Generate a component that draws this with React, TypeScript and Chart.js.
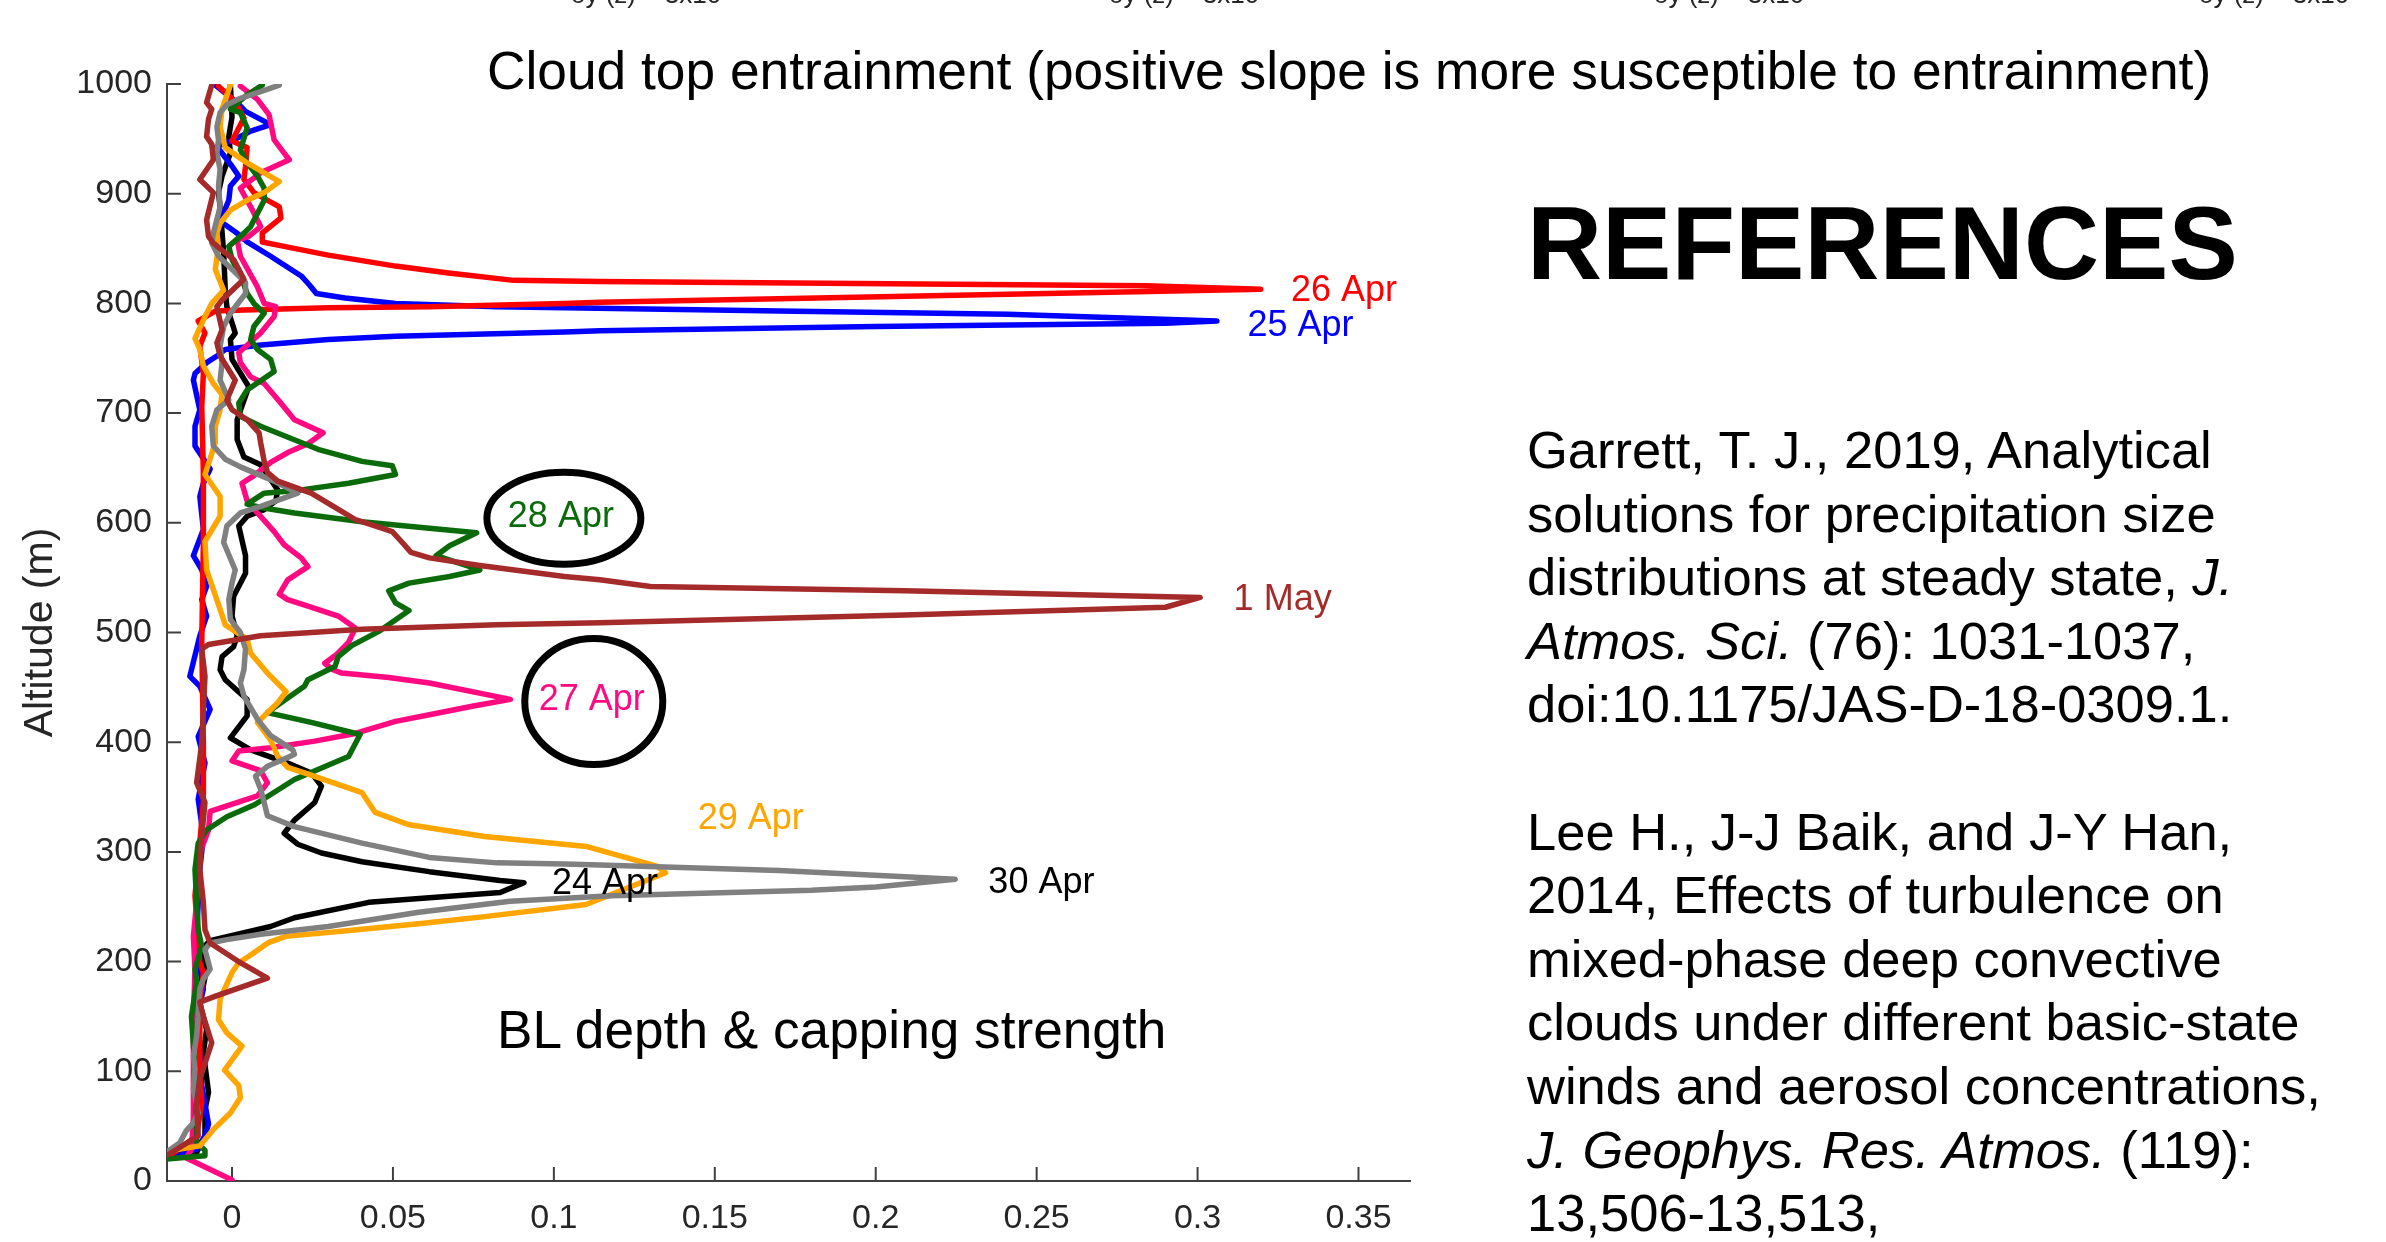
import React, { useEffect, useRef } from 'react';
import { Chart, registerables } from 'chart.js';

Chart.register(...registerables);

const FONT = '"Liberation Sans", Arial, Helvetica, sans-serif';
const AXIS_COLOR = '#404040';
const TICK_COLOR = '#262626';

// Vertical profiles, one per flight day: [altitude (m), value]
const apr24: [number, number][] = [
  [21, -0.0194], [26, -0.011], [41, -0.0084], [65, -0.0084], [81, -0.0073], [117, -0.0089], [138, -0.0079],
  [162, -0.01], [193, -0.0079], [208, -0.0094], [213, -0.0089], [219, -0.0068], [232, 0.012], [240, 0.0194],
  [254, 0.0425], [263, 0.0833], [272, 0.0907], [274, 0.0833], [282, 0.0613], [291, 0.0404], [299, 0.0278],
  [307, 0.0204], [317, 0.0162], [329, 0.0194], [345, 0.0257], [360, 0.0278], [372, 0.0246], [381, 0.0173],
  [393, 0.0058], [404, -0.0005], [424, 0.0047], [439, 0.0047], [457, -0.0021], [466, -0.0037], [478, -0.0031],
  [487, 0.0005], [497, 0.0016], [515, 0], [533, 0.0005], [554, 0.0042], [570, 0.0042], [597, 0.0021],
  [606, 0.0047], [612, 0.01], [620, 0.0136], [630, 0.0142], [653, 0.0089], [660, 0.0037], [676, 0.0016],
  [694, 0.0016], [724, 0.0052], [749, 0], [767, -0.0005], [773, 0.001], [797, -0.0016], [812, -0.0021],
  [846, -0.0026], [888, -0.0037], [901, -0.0042], [916, -0.0031], [937, -0.0005], [952, -0.001], [970, 0],
  [999, -0.0005],
];

const apr25: [number, number][] = [
  [21, -0.0204], [29, -0.011], [41, -0.0084], [52, -0.0073], [87, -0.0094], [117, -0.01], [147, -0.011],
  [175, -0.0089], [193, -0.01], [223, -0.011], [254, -0.0105], [284, -0.01], [314, -0.0089], [348, -0.0105],
  [381, -0.0084], [405, -0.0105], [430, -0.0068], [451, -0.01], [460, -0.0131], [497, -0.01], [515, -0.0079],
  [530, -0.0094], [542, -0.0079], [557, -0.0094], [570, -0.012], [594, -0.0089], [624, -0.01], [636, -0.0089],
  [649, -0.0068], [670, -0.0115], [688, -0.0115], [703, -0.01], [730, -0.012], [736, -0.0115], [746, -0.0079],
  [753, -0.0042], [758, -0.0021], [762, 0.0089], [767, 0.0299], [770, 0.0508], [774, 0.1033], [775, 0.1143],
  [779, 0.2], [782, 0.29], [784, 0.306], [790, 0.241], [793, 0.17], [796, 0.1033], [797, 0.0823],
  [800, 0.0508], [805, 0.0351], [809, 0.0262], [817, 0.024], [825, 0.0215], [835, 0.0162], [843, 0.012],
  [856, 0.0047], [864, 0.0016], [875, -0.0037], [894, -0.001], [907, -0.0005], [916, 0.0021], [925, 0],
  [943, -0.0047], [949, 0.0005], [957, 0.0058], [963, 0.012], [975, 0.0042], [983, 0.0016], [999, -0.0052],
];

const apr26: [number, number][] = [
  [23, -0.0194], [41, -0.011], [72, -0.0094], [102, -0.01], [162, -0.01], [190, -0.0089], [199, -0.01],
  [260, -0.0115], [345, -0.0089], [399, -0.0089], [491, -0.0094], [582, -0.0089], [645, -0.0089],
  [706, -0.0094], [736, -0.0089], [761, -0.01], [773, -0.0084], [784, -0.0105], [793, -0.0052], [794, 0.0037],
  [796, 0.0299], [797, 0.0613], [800, 0.1033], [801, 0.1143], [811, 0.2886], [813, 0.3196], [816, 0.284],
  [820, 0.1143], [821, 0.0875], [828, 0.0666], [834, 0.0508], [844, 0.0299], [852, 0.0162], [856, 0.0094],
  [864, 0.0094], [878, 0.0152], [888, 0.0147], [901, 0.0068], [913, 0.0037], [925, 0.0042], [942, 0.0047],
  [948, 0], [969, 0.0037], [984, 0.001], [998, -0.0042],
];

const apr27: [number, number][] = [
  [1, 0], [21, -0.0142], [29, -0.0126], [57, -0.012], [102, -0.012], [147, -0.012], [193, -0.0115],
  [223, -0.012], [254, -0.011], [299, -0.01], [320, -0.0073], [337, -0.0068], [351, 0.0079], [363, 0.011],
  [374, 0.0089], [383, 0], [392, 0.0021], [395, 0.012], [401, 0.0257], [408, 0.0383], [419, 0.0508],
  [425, 0.0613], [433, 0.075], [439, 0.0865], [454, 0.0613], [459, 0.0487], [463, 0.0341], [466, 0.0314],
  [472, 0.0288], [480, 0.0325], [491, 0.0362], [504, 0.0383], [515, 0.033], [524, 0.0236], [530, 0.0173],
  [535, 0.0147], [548, 0.0173], [560, 0.0236], [568, 0.0215], [580, 0.0162], [592, 0.0131], [609, 0.0079],
  [620, 0.0047], [636, 0.0031], [643, 0.0068], [655, 0.012], [664, 0.0173], [672, 0.0236], [682, 0.0283],
  [694, 0.0194], [709, 0.0152], [727, 0.01], [733, 0.0058], [746, 0.0026], [755, 0.0021], [773, 0.0089],
  [788, 0.0131], [797, 0.0136], [800, 0.01], [815, 0.0079], [843, 0.0026], [858, 0.0016], [861, 0.0052],
  [870, 0.0089], [888, 0.0058], [905, 0.0026], [919, 0.0089], [931, 0.0178], [937, 0.0162], [949, 0.0131],
  [972, 0.0115], [986, 0.0079], [998, 0.0026],
];

const apr28: [number, number][] = [
  [20, -0.0204], [23, -0.0084], [28, -0.0084], [35, -0.011], [56, -0.011], [102, -0.0115], [150, -0.0126],
  [181, -0.011], [193, -0.0115], [214, -0.0094], [229, -0.0105], [254, -0.011], [284, -0.0115], [308, -0.0105],
  [320, -0.0079], [332, -0.0016], [343, 0.007], [366, 0.0194], [387, 0.0362], [407, 0.0398], [418, 0.0246],
  [427, 0.011], [436, 0.0152], [451, 0.0225], [457, 0.0236], [469, 0.032], [478, 0.033], [488, 0.0372],
  [501, 0.0456], [520, 0.055], [527, 0.0508], [538, 0.0487], [545, 0.055], [551, 0.0676], [557, 0.077],
  [570, 0.0634], [579, 0.0676], [591, 0.076], [595, 0.0613], [601, 0.0404], [609, 0.0194], [614, 0.0089],
  [617, 0.0047], [627, 0.01], [630, 0.0215], [636, 0.0362], [644, 0.0508], [652, 0.0498], [656, 0.0404],
  [667, 0.0267], [688, 0.0089], [697, 0.0026], [709, 0.0021], [721, 0.0047], [738, 0.0131], [749, 0.012],
  [758, 0.0079], [767, 0.0058], [779, 0.0068], [791, 0.01], [800, 0.0068], [809, 0.0047], [822, 0.0031],
  [840, 0], [852, -0.001], [864, 0.0037], [870, 0.0058], [894, 0.01], [905, 0.01], [916, 0.0079], [928, 0.0047],
  [940, 0.0026], [960, 0.0047], [974, 0.0026], [977, -0.0005], [989, 0.0042], [999, 0.0094],
];

const apr29: [number, number][] = [
  [27, -0.0204], [32, -0.01], [47, -0.0058], [62, -0.0005], [76, 0.0026], [87, 0.0021], [101, -0.0023],
  [123, 0.0031], [135, -0.0016], [147, -0.0042], [166, -0.0037], [190, 0], [199, 0.0021], [206, 0.0058],
  [217, 0.0111], [223, 0.0167], [229, 0.0389], [235, 0.0595], [241, 0.0785], [252, 0.11], [281, 0.1347],
  [287, 0.132], [305, 0.11], [314, 0.0785], [325, 0.0547], [336, 0.0445], [354, 0.0404], [372, 0.0225],
  [377, 0.0173], [387, 0.0142], [402, 0.012], [418, 0.0079], [436, 0.0142], [446, 0.0168], [463, 0.011],
  [481, 0.0058], [494, 0.0047], [507, -0.0021], [521, -0.0037], [557, -0.0079], [583, -0.0084], [606, -0.0037],
  [624, -0.0037], [644, -0.0084], [673, -0.0052], [688, -0.0052], [703, -0.0037], [717, -0.0031], [727, -0.0058],
  [743, -0.0089], [758, -0.01], [768, -0.0115], [788, -0.0084], [800, -0.0063], [812, -0.0026], [831, -0.0052],
  [852, -0.0042], [864, -0.0047], [873, -0.0037], [885, -0.0005], [894, 0.0047], [901, 0.01], [911, 0.0147],
  [928, 0.0047], [942, -0.0021], [961, -0.0037], [977, -0.0031], [999, -0.0005],
];

const apr30: [number, number][] = [
  [26, -0.0204], [35, -0.0162], [46, -0.0142], [53, -0.012], [62, -0.0105], [84, -0.012], [102, -0.0115],
  [114, -0.012], [132, -0.011], [150, -0.0105], [175, -0.01], [184, -0.0089], [193, -0.0068], [211, -0.0084],
  [217, -0.0068], [220, -0.0016], [225, 0.0089], [232, 0.0299], [245, 0.058], [255, 0.0864], [260, 0.118],
  [265, 0.18], [268, 0.2], [275, 0.2247], [283, 0.17], [288, 0.1143], [289, 0.1033], [290, 0.0823],
  [295, 0.0613], [308, 0.0404], [323, 0.0194], [333, 0.011], [345, 0.01], [357, 0.0089], [369, 0.0073],
  [378, 0.011], [386, 0.0173], [389, 0.0194], [393, 0.0189], [406, 0.012], [421, 0.0079], [442, 0.0037],
  [454, 0.0026], [466, 0.0037], [485, 0.0042], [500, 0.0026], [512, -0.0005], [530, -0.001], [545, 0],
  [557, 0.001], [582, -0.0026], [597, -0.0016], [609, 0.0026], [615, 0.0089], [627, 0.0204], [638, 0.0131],
  [651, 0.0026], [658, -0.0021], [670, -0.0058], [688, -0.0063], [703, -0.0047], [712, -0.001], [730, -0.0037],
  [746, -0.0031], [761, -0.0037], [779, -0.0026], [791, -0.0005], [809, 0.0042], [819, 0.0042], [831, 0],
  [843, -0.0042], [855, -0.0063], [864, -0.0058], [888, -0.0037], [907, -0.0042], [922, -0.0037], [937, -0.0047],
  [949, -0.0042], [961, -0.0047], [974, -0.0037], [981, -0.0016], [987, 0.0026], [993, 0.0089], [999, 0.0147],
];

const may01: [number, number][] = [
  [23, -0.0204], [41, -0.0105], [72, -0.011], [93, -0.01], [126, -0.0063], [150, -0.0089], [163, -0.01],
  [169, -0.0047], [185, 0.011], [199, 0.0026], [217, -0.0068], [229, -0.0084], [254, -0.0089], [284, -0.01],
  [314, -0.0094], [345, -0.0084], [363, -0.011], [399, -0.0094], [460, -0.0084], [485, -0.0094], [489, -0.0073],
  [497, 0.0089], [503, 0.0404], [507, 0.0823], [509, 0.1143], [516, 0.209], [523, 0.29], [532, 0.3008],
  [538, 0.209], [542, 0.13], [548, 0.1143], [551, 0.1033], [561, 0.077], [568, 0.0613], [573, 0.0556],
  [582, 0.0529], [592, 0.0498], [603, 0.0383], [614, 0.032], [627, 0.0246], [638, 0.0142], [646, 0.011],
  [656, 0.01], [673, 0.0089], [682, 0.0084], [694, 0.0047], [703, 0], [712, -0.0016], [730, 0.001],
  [752, -0.0037], [764, -0.0047], [776, -0.0031], [797, -0.0047], [803, -0.0031], [822, 0.0037], [840, 0.0005],
  [855, -0.0058], [861, -0.0073], [876, -0.0079], [901, -0.0058], [913, -0.01], [931, -0.0058], [945, -0.0063],
  [952, -0.0079], [968, -0.0073], [977, -0.0063], [983, -0.0079], [999, -0.0063],
];

const profiles = [apr24, apr25, apr26, apr27, apr28, apr29, apr30, may01];
const seriesNames = ['24 Apr', '25 Apr', '26 Apr', '27 Apr', '28 Apr', '29 Apr', '30 Apr', '1 May'];
const seriesColors = ['#000000', '#0000ff', '#ff0000', '#ff0a80', '#0b6b0b', '#ffa500', '#808080', '#a52a2a'];
const labelColors = ['#000000', '#0000ff', '#ff0000', '#ff0a80', '#0b6b0b', '#ffa500', '#000000', '#a52a2a'];
// Where each day's name sits (left edge of the text), in data units
const labelValues = [0.0994, 0.3155, 0.329, 0.0953, 0.0857, 0.1447, 0.235, 0.3112];
const labelAltitudes = [271, 779, 811, 438, 605, 330, 272, 530];
const circledDays = ['27 Apr', '28 Apr'];

const yTickValues = [0, 100, 200, 300, 400, 500, 600, 700, 800, 900, 1000];
const xTickValues = [0, 0.05, 0.1, 0.15, 0.2, 0.25, 0.3, 0.35];
const xTickLabels = ['0', '0.05', '0.1', '0.15', '0.2', '0.25', '0.3', '0.35'];
const X_MIN = -0.0202;
const X_MAX = 0.366;

// Ring radii (px) and horizontal nudge around the circled day names
const ringSize: Record<string, [number, number, number]> = {
  '28 Apr': [77, 46, 3],
  '27 Apr': [69, 63, 2],
};

const overlayPlugin = {
  id: 'profileOverlay',
  beforeDatasetsDraw(chart: any) {
    const { ctx, chartArea, scales } = chart;
    ctx.save();
    ctx.strokeStyle = AXIS_COLOR;
    ctx.lineWidth = 2;
    ctx.beginPath();
    yTickValues.forEach((v) => {
      const y = scales.y.getPixelForValue(v);
      ctx.moveTo(chartArea.left, y);
      ctx.lineTo(chartArea.left + 14, y);
    });
    xTickValues.forEach((v) => {
      const x = scales.x.getPixelForValue(v);
      ctx.moveTo(x, chartArea.bottom);
      ctx.lineTo(x, chartArea.bottom - 14);
    });
    ctx.stroke();
    ctx.restore();
  },
  afterDatasetsDraw(chart: any) {
    const { ctx, scales } = chart;
    ctx.save();
    ctx.font = `36px ${FONT}`;
    ctx.textAlign = 'left';
    ctx.textBaseline = 'middle';
    seriesNames.forEach((name, i) => {
      const x = scales.x.getPixelForValue(labelValues[i]);
      const y = scales.y.getPixelForValue(labelAltitudes[i]);
      ctx.fillStyle = labelColors[i];
      ctx.fillText(name, x, y);
      if (circledDays.includes(name)) {
        const w = ctx.measureText(name).width;
        const [rx, ry, dx] = ringSize[name];
        ctx.beginPath();
        ctx.strokeStyle = '#000000';
        ctx.lineWidth = 7;
        ctx.ellipse(x + w / 2 + dx, y + 1, rx, ry, 0, 0, Math.PI * 2);
        ctx.stroke();
      }
    });
    ctx.restore();
  },
};

function ProfileChart() {
  const canvasRef = useRef<HTMLCanvasElement | null>(null);

  useEffect(() => {
    const canvas = canvasRef.current;
    if (!canvas) return;
    Chart.defaults.font.family = FONT;
    const chart = new Chart(canvas, {
      type: 'scatter',
      data: {
        datasets: profiles.map((p, i) => ({
          label: seriesNames[i],
          data: p.map(([alt, v]) => ({ x: v, y: alt })),
          borderColor: seriesColors[i],
          backgroundColor: seriesColors[i],
          borderWidth: 5.5,
          pointRadius: 0,
          pointHoverRadius: 0,
          showLine: true,
          tension: 0,
          borderJoinStyle: 'round' as const,
          borderCapStyle: 'round' as const,
          order: profiles.length - i,
        })),
      },
      options: {
        responsive: false,
        animation: false,
        devicePixelRatio: 1,
        events: [],
        layout: { padding: { left: 0, top: 84, right: 976, bottom: 0 } },
        plugins: {
          legend: { display: false },
          tooltip: { enabled: false },
          title: { display: false },
        },
        scales: {
          x: {
            type: 'linear',
            min: X_MIN,
            max: X_MAX,
            grid: { display: false, drawTicks: false },
            border: { display: true, color: AXIS_COLOR, width: 2 },
            ticks: {
              autoSkip: false,
              maxRotation: 0,
              color: TICK_COLOR,
              font: { size: 34, family: FONT },
              padding: 17,
              callback: (_v: any, i: number) => xTickLabels[i],
            },
            afterBuildTicks: (s: any) => {
              s.ticks = xTickValues.map((v) => ({ value: v }));
            },
            afterFit: (s: any) => {
              s.height = 61;
            },
          },
          y: {
            type: 'linear',
            min: 0,
            max: 1000,
            grid: { display: false, drawTicks: false },
            border: { display: true, color: AXIS_COLOR, width: 2 },
            ticks: {
              autoSkip: false,
              color: TICK_COLOR,
              font: { size: 34, family: FONT },
              padding: 15,
              callback: (v: any) => String(v),
            },
            afterBuildTicks: (s: any) => {
              s.ticks = yTickValues.map((v) => ({ value: v }));
            },
            title: {
              display: true,
              text: 'Altitude (m)',
              color: TICK_COLOR,
              font: { size: 41, family: FONT, lineHeight: 1.2 },
              padding: { top: 16, bottom: 0 },
            },
            afterFit: (s: any) => {
              s.width = 167;
            },
          },
        },
      },
      plugins: [overlayPlugin],
    } as any);
    return () => chart.destroy();
  }, []);

  return (
    <canvas
      ref={canvasRef}
      width={2386}
      height={1242}
      style={{ position: 'absolute', left: 0, top: 0 }}
    />
  );
}

const fragmentLefts = [571, 1109, 1654, 2199];

export default function App() {
  return (
    <div
      style={{
        position: 'absolute',
        left: 0,
        top: 0,
        width: 2386,
        height: 1242,
        overflow: 'hidden',
        background: '#ffffff',
        fontFamily: FONT,
        color: '#000000',
      }}
    >
      <ProfileChart />
      {fragmentLefts.map((l) => (
        <span
          key={l}
          style={{ position: 'absolute', left: l, top: -19, fontSize: 26, lineHeight: 1, color: TICK_COLOR, whiteSpace: 'nowrap' }}
        >
          δy (z) ≈ 3x10
        </span>
      ))}
      <div style={{ position: 'absolute', left: 487, top: 44, fontSize: 53.3, lineHeight: 1, whiteSpace: 'nowrap' }}>
        Cloud top entrainment (positive slope is more susceptible to entrainment)
      </div>
      <div style={{ position: 'absolute', left: 497, top: 1003, fontSize: 53.2, lineHeight: 1, whiteSpace: 'nowrap' }}>
        BL depth &amp; capping strength
      </div>
      <div style={{ position: 'absolute', left: 1527, top: 191, fontSize: 104, fontWeight: 700, lineHeight: 1, whiteSpace: 'nowrap' }}>
        REFERENCES
      </div>
      <div style={{ position: 'absolute', left: 1527, top: 418, fontSize: 52.5, lineHeight: '63.6px', whiteSpace: 'nowrap' }}>
        Garrett, T. J., 2019, Analytical<br />
        solutions for precipitation size<br />
        distributions at steady state, <i>J.</i><br />
        <i>Atmos. Sci.</i> (76): 1031-1037,<br />
        doi:10.1175/JAS-D-18-0309.1.<br />
        <br />
        Lee H., J-J Baik, and J-Y Han,<br />
        2014, Effects of turbulence on<br />
        mixed-phase deep convective<br />
        clouds under different basic-state<br />
        winds and aerosol concentrations,<br />
        <i>J. Geophys. Res. Atmos.</i> (119):<br />
        13,506-13,513,
      </div>
    </div>
  );
}
